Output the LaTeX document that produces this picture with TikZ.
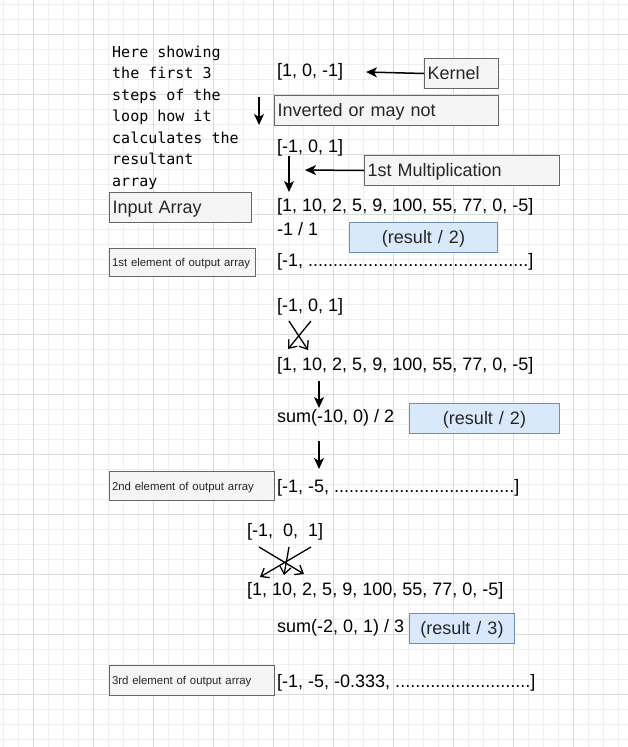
\documentclass[tikz,border=0pt]{standalone}
\usepackage{fontspec}
\setmainfont{Liberation Sans}
\newfontfamily\notefont{DejaVu Sans Mono}
\usetikzlibrary{arrows.meta}

\definecolor{boxfill}{HTML}{F5F5F5}
\definecolor{boxline}{HTML}{666666}
\definecolor{resultfill}{HTML}{DAE8FC}
\definecolor{resultline}{HTML}{6C8EBF}
\definecolor{gridminor}{HTML}{EFEFEF}
\definecolor{gridmajor}{HTML}{DADADA}

\tikzset{
  arraytext/.style={inner sep=0pt, anchor=west, font=\fontsize{18}{21}\selectfont},
  notetext/.style={inner sep=0pt, anchor=north west, align=left, font=\notefont\fontsize{15}{21.5}\selectfont},
  graybox/.style={draw=boxline, fill=boxfill, line width=1pt, anchor=north west, inner xsep=3pt, inner ysep=0pt,
    minimum height=30pt, text height=12.9pt, text depth=0pt, align=left, text=black!85, font=\fontsize{18}{21}\selectfont},
  smallbox/.style={graybox, inner xsep=2.5pt, text height=8.5pt, font=\fontsize{11.4}{14}\selectfont},
  bluebox/.style={graybox, draw=resultline, fill=resultfill, align=center},
  solidarrow/.style={-{Stealth[length=11pt, width=10pt, inset=3pt]}, line width=1.5pt},
  openarrow/.style={-{Straight Barb[length=7pt, width=11pt]}, line width=1.3pt}
}

\begin{document}
\begin{tikzpicture}[x=1pt, y=-1pt]
\useasboundingbox (0,0) rectangle (628,747);
% background grid
\foreach \gx in {3,18,...,618} \draw[gridminor, line width=0.8pt] (\gx,0) -- (\gx,747);
\foreach \gy in {4,19,...,744} \draw[gridminor, line width=0.8pt] (0,\gy) -- (628,\gy);
\foreach \gx in {33,93,...,573} \draw[gridmajor, line width=0.8pt] (\gx,0) -- (\gx,747);
\foreach \gy in {34,94,...,694} \draw[gridmajor, line width=0.8pt] (0,\gy) -- (628,\gy);

\node[notetext] (note) at (112,45.5) {Here showing\\the first 3\\steps of the\\loop how it\\calculates the\\resultant\\array};

% step 1
\node[arraytext] (kernel_arr) at (277,72) {[1, 0, -1]};
\node[graybox, text width=68pt] (kernel) at (424,58) {Kernel};
\node[graybox, text width=218pt] (inverted) at (274,95) {Inverted or may not};
\node[arraytext] (flipped_arr) at (277,148) {[-1, 0, 1]};
\node[graybox, text width=189pt] (mult) at (364,155) {1st Multiplication};
\node[graybox, text width=136pt] (input) at (109,192) {Input Array};
\node[arraytext] (input_arr1) at (277,207) {[1, 10, 2, 5, 9, 100, 55, 77, 0, -5]};
\node[arraytext] (prod1) at (277,229) {-1 / 1};
\node[bluebox, text width=142pt] (result1) at (349,222) {(result / 2)};
\node[smallbox, text width=141pt, minimum height=28pt] (out1) at (109,248) {\mbox{1st element of output array}};
\node[arraytext] (out_arr1) at (277,262) {[-1, ............................................]};

\coordinate (kernel_tip) at (366,72);
\coordinate (flip_top) at (259,97);
\coordinate (flip_bot) at (259,125);
\coordinate (drop_top) at (289,156);
\coordinate (drop_bot) at (289,192);
\coordinate (mult_tip) at (305,170);
\draw[solidarrow] (kernel.west) -- (kernel_tip);
\draw[solidarrow] (flip_top) -- (flip_bot);
\draw[solidarrow] (drop_top) -- (drop_bot);
\draw[solidarrow] (mult.west) -- (mult_tip);

% step 2
\node[arraytext] (kernel_arr2) at (277,307) {[-1, 0, 1]};
\node[arraytext] (input_arr2) at (277,366) {[1, 10, 2, 5, 9, 100, 55, 77, 0, -5]};
\node[arraytext] (sum2) at (277,418) {sum(-10, 0) / 2};
\node[bluebox, text width=144pt] (result2) at (409,403) {(result / 2)};
\node[smallbox, text width=160pt, minimum height=29pt] (out2) at (109,471) {2nd element of output array};
\node[arraytext] (out_arr2) at (277,488) {[-1, -5, ....................................]};

\coordinate (cross_a1) at (289,321);
\coordinate (cross_a2) at (308,350);
\coordinate (cross_b1) at (311,321);
\coordinate (cross_b2) at (288,349);
\coordinate (sum2_top) at (319,381);
\coordinate (sum2_tip) at (319,408);
\coordinate (out2_top) at (319,441);
\coordinate (out2_tip) at (319,469);
\draw[openarrow] (cross_a1) -- (cross_a2);
\draw[openarrow] (cross_b1) -- (cross_b2);
\draw[solidarrow] (sum2_top) -- (sum2_tip);
\draw[solidarrow] (out2_top) -- (out2_tip);

% step 3
\node[arraytext] (kernel_arr3) at (247,532) {[-1,\ \ 0,\ \ 1]};
\node[arraytext] (input_arr3) at (247,591) {[1, 10, 2, 5, 9, 100, 55, 77, 0, -5]};
\node[arraytext] (sum3) at (277,628) {sum(-2, 0, 1) / 3};
\node[bluebox, text width=99pt] (result3) at (409,613) {(result / 3)};
\node[smallbox, text width=160pt] (out3) at (109,665) {3rd element of output array};
\node[arraytext] (out_arr3) at (277,683) {[-1, -5, -0.333, ...........................]};

\coordinate (fan_l1) at (259,547);
\coordinate (fan_l2) at (304,574);
\coordinate (fan_r1) at (311,547);
\coordinate (fan_r2) at (260,577);
\coordinate (fan_m1) at (289,547);
\coordinate (fan_m2) at (284,575);
\draw[openarrow] (fan_l1) -- (fan_l2);
\draw[openarrow] (fan_r1) -- (fan_r2);
\draw[openarrow] (fan_m1) -- (fan_m2);
\end{tikzpicture}
\end{document}
